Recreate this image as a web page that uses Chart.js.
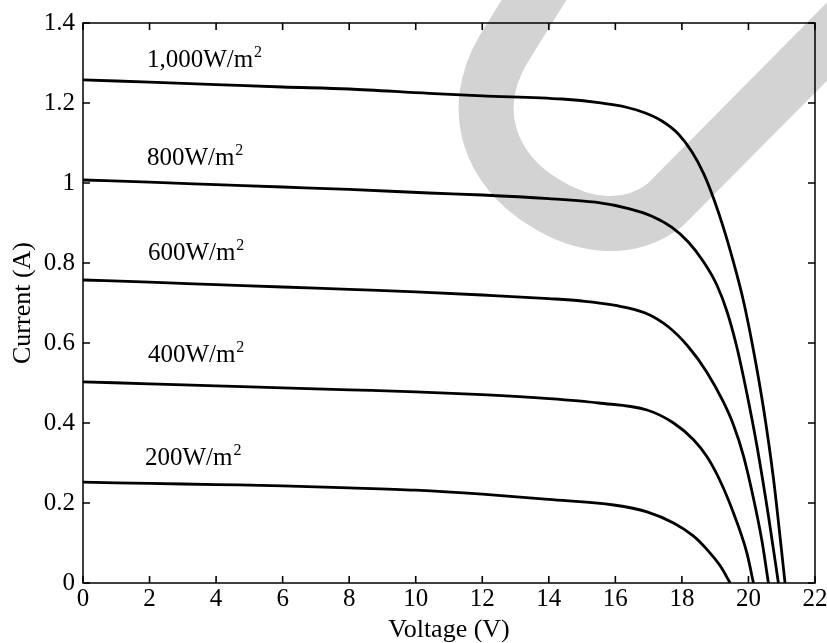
<!DOCTYPE html>
<html><head><meta charset="utf-8">
<script src="https://cdn.jsdelivr.net/npm/chart.js@4/dist/chart.umd.min.js"></script>
<style>html,body{margin:0;padding:0;background:#fff}canvas{display:block}</style>
</head><body>
<canvas id="c" width="827" height="643"></canvas>
<script>
// Irradiance levels (series names)
const irradiance = ['1,000W/m', '800W/m', '600W/m', '400W/m', '200W/m'];

// Voltage (V) / Current (A) values
const v1000 = [0, 2, 4, 6, 8, 10.4, 12, 14.4, 15.5, 16.3, 16.9, 17.4, 17.9, 18.3, 18.65, 18.95, 19.25, 19.55, 19.85, 20.15, 20.45, 20.75, 21.1];
const i1000 = [1.258, 1.252, 1.246, 1.240, 1.235, 1.224, 1.218, 1.210, 1.201, 1.190, 1.175, 1.155, 1.122, 1.078, 1.024, 0.962, 0.888, 0.802, 0.705, 0.582, 0.438, 0.262, 0];

const v800 = [0, 2, 4, 6, 8, 10.4, 12, 14, 15.4, 16.4, 17.1, 17.7, 18.2, 18.65, 19.05, 19.35, 19.65, 19.95, 20.25, 20.6, 20.9];
const i800 = [1.0075, 1.002, 0.996, 0.990, 0.984, 0.975, 0.970, 0.961, 0.952, 0.936, 0.917, 0.889, 0.852, 0.803, 0.745, 0.680, 0.590, 0.475, 0.345, 0.168, 0];

const v600 = [0, 2, 4, 6, 8, 10, 12, 14, 15, 16, 16.9, 17.6, 18.2, 18.75, 19.25, 19.55, 19.85, 20.15, 20.4, 20.6];
const i600 = [0.7575, 0.752, 0.746, 0.740, 0.734, 0.728, 0.720, 0.711, 0.705, 0.694, 0.675, 0.640, 0.590, 0.527, 0.452, 0.395, 0.318, 0.212, 0.108, 0];

const v400 = [0, 2, 4, 6, 8, 10, 12, 14, 15.5, 16.95, 17.75, 18.35, 18.75, 19.15, 19.55, 19.95, 20.15];
const i400 = [0.503, 0.498, 0.493, 0.488, 0.483, 0.478, 0.471, 0.461, 0.450, 0.4325, 0.400, 0.358, 0.316, 0.255, 0.175, 0.076, 0];

const v200 = [0, 2, 4, 6, 8, 10, 12, 14, 15.95, 16.95, 17.75, 18.35, 18.75, 19.15, 19.45];
const i200 = [0.252, 0.249, 0.246, 0.243, 0.238, 0.232, 0.222, 0.209, 0.195, 0.178, 0.150, 0.117, 0.084, 0.043, 0];

// Label anchors (data units)
const labelV = [1.92, 1.92, 1.95, 1.95, 1.86];
const labelI = [1.29, 1.045, 0.8075, 0.5525, 0.295];

const xTicks = [0, 2, 4, 6, 8, 10, 12, 14, 16, 18, 20, 22];
const yTicks = [0, 0.2, 0.4, 0.6, 0.8, 1, 1.2, 1.4];

const voltages = [v1000, v800, v600, v400, v200];
const currents = [i1000, i800, i600, i400, i200];

const FONT = "'Liberation Serif', 'Times New Roman', serif";

const datasets = irradiance.map((name, k) => ({
  label: name + '2',
  data: voltages[k].map((v, j) => ({x: v, y: currents[k][j]})),
  borderColor: '#000',
  borderWidth: 2.8,
  pointRadius: 0,
  fill: false,
  cubicInterpolationMode: 'monotone'
}));

const watermark = {
  id: 'watermark',
  beforeDatasetsDraw(chart) {
    const ctx = chart.ctx;
    ctx.save();
    ctx.strokeStyle = '#d3d3d3';
    ctx.lineWidth = 55;
    ctx.lineCap = 'butt';
    ctx.lineJoin = 'round';
    ctx.beginPath();
    ctx.moveTo(562, -45);
    ctx.lineTo(503, 50);
    ctx.bezierCurveTo(468, 110, 490, 170, 545, 203);
    ctx.bezierCurveTo(585, 228, 630, 232, 665, 205);
    ctx.lineTo(900, -32);
    ctx.stroke();
    ctx.restore();
  }
};

const frame = {
  id: 'frame',
  afterDatasetsDraw(chart) {
    const {ctx, chartArea: a, scales: {x, y}} = chart;
    ctx.save();
    ctx.strokeStyle = '#000';
    ctx.lineWidth = 1.5;
    ctx.strokeRect(a.left, a.top, a.right - a.left, a.bottom - a.top);
    ctx.lineWidth = 1.6;
    ctx.beginPath();
    const tl = 7;
    xTicks.forEach(v => {
      const px = x.getPixelForValue(v);
      ctx.moveTo(px, a.bottom); ctx.lineTo(px, a.bottom - tl);
      ctx.moveTo(px, a.top); ctx.lineTo(px, a.top + tl);
    });
    yTicks.forEach(v => {
      const py = y.getPixelForValue(v);
      ctx.moveTo(a.left, py); ctx.lineTo(a.left + tl, py);
      ctx.moveTo(a.right, py); ctx.lineTo(a.right - tl, py);
    });
    ctx.stroke();
    // curve labels
    ctx.fillStyle = '#000';
    ctx.textAlign = 'left';
    ctx.textBaseline = 'alphabetic';
    irradiance.forEach((name, k) => {
      const px = x.getPixelForValue(labelV[k]);
      const py = y.getPixelForValue(labelI[k]);
      ctx.font = '25px ' + FONT;
      ctx.fillText(name, px, py);
      const w = ctx.measureText(name).width;
      ctx.font = '16px ' + FONT;
      ctx.fillText('2', px + w + 1, py - 10);
    });
    ctx.restore();
  }
};

new Chart(document.getElementById('c'), {
  type: 'line',
  data: {datasets},
  options: {
    responsive: false,
    animation: false,
    events: [],
    layout: {padding: {top: 23, right: 12, left: 0, bottom: 0}},
    plugins: {legend: {display: false}, tooltip: {enabled: false}},
    scales: {
      x: {
        type: 'linear', min: 0, max: 22,
        afterBuildTicks: s => { s.ticks = xTicks.map(v => ({value: v})); },
        afterFit: s => { s.height = 60; s.paddingLeft = 0; s.paddingRight = 0; },
        grid: {display: false, drawTicks: false},
        border: {display: false},
        ticks: {color: '#000', font: {family: FONT, size: 25}, padding: 1, maxRotation: 0, autoSkip: false,
                callback: v => String(+Number(v).toFixed(1))},
        title: {display: true, text: 'Voltage (V)', color: '#000', font: {family: FONT, size: 26, lineHeight: 1}, padding: {top: 0, bottom: 0}}
      },
      y: {
        type: 'linear', min: 0, max: 1.4,
        afterBuildTicks: s => { s.ticks = yTicks.map(v => ({value: v})); },
        afterFit: s => { s.width = 83; s.paddingTop = 0; s.paddingBottom = 0; },
        grid: {display: false, drawTicks: false},
        border: {display: false},
        ticks: {color: '#000', font: {family: FONT, size: 25}, padding: 8, autoSkip: false,
                callback: v => String(+Number(v).toFixed(1))},
        title: {display: true, text: 'Current (A)', color: '#000', font: {family: FONT, size: 26, lineHeight: 1}, padding: {top: 10, bottom: 0}}
      }
    }
  },
  plugins: [watermark, frame]
});
</script>
</body></html>
